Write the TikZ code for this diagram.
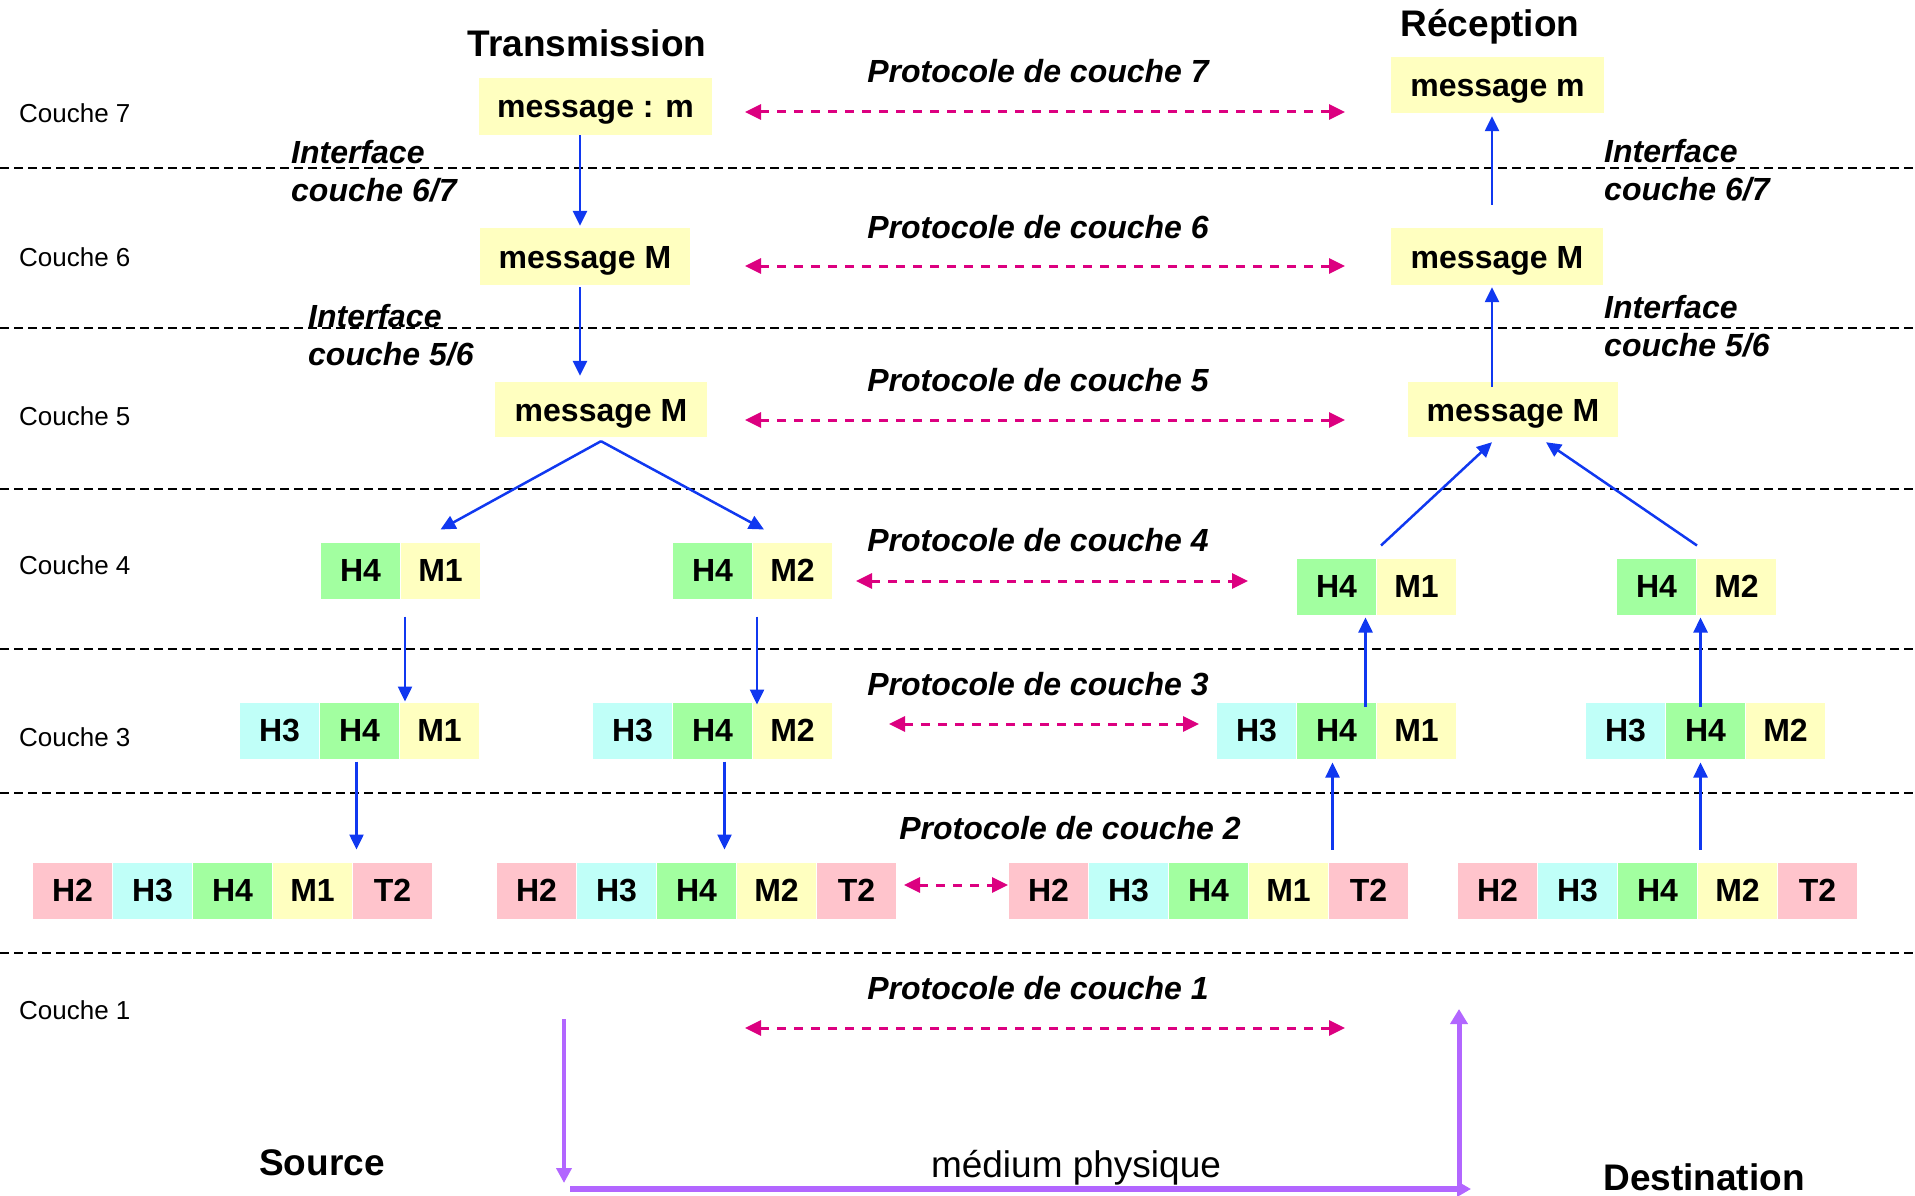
\documentclass[tikz,border=0pt]{standalone}
\usepackage{fontspec}
\setmainfont{Liberation Sans}
\usetikzlibrary{arrows.meta}

\definecolor{cellyellow}{RGB}{255,255,192}
\definecolor{cellgreen}{RGB}{162,255,160}
\definecolor{cellcyan}{RGB}{192,255,248}
\definecolor{cellpink}{RGB}{255,196,204}
\definecolor{flowblue}{RGB}{16,56,240}
\definecolor{protomag}{RGB}{220,0,128}
\definecolor{wirepurple}{RGB}{178,102,255}

\tikzset{
  layerline/.style={draw=black,line width=2pt,dash pattern=on 9pt off 5pt},
  couche/.style={anchor=west,inner sep=0pt,font=\fontsize{26}{30}\selectfont},
  headline/.style={inner sep=0pt,font=\fontsize{37}{44}\selectfont\bfseries},
  medium/.style={inner sep=0pt,font=\fontsize{37}{44}\selectfont},
  proto/.style={inner sep=0pt,font=\fontsize{32}{38}\selectfont\bfseries\itshape},
  iface/.style={anchor=west,align=left,inner sep=0pt,font=\fontsize{32}{38}\selectfont\bfseries\itshape},
  msgbox/.style={fill=cellyellow,inner sep=0pt,text height=23pt,text depth=0pt,
    font=\fontsize{32}{38}\selectfont\bfseries},
  cell/.style={anchor=west,minimum width=80pt,minimum height=57pt,inner sep=0pt,
    draw=white,line width=1pt,font=\fontsize{32}{38}\selectfont\bfseries},
  bluearrow/.style={draw=flowblue,line width=2.5pt,-{Triangle[length=15pt,width=14pt]}},
  protoarrow/.style={draw=protomag,line width=3pt,dash pattern=on 9pt off 8pt,
    {Triangle[length=16pt,width=15pt]}-{Triangle[length=16pt,width=15pt]}},
  wire/.style={draw=wirepurple,-{Triangle[length=15pt,width=15pt]}},
}

% one packet: prefix, west edge, centre y, list of colour/label
\newcommand{\pktrow}[4]{%
  \foreach \col/\txt [count=\k from 0] in {#4} {
    \node[cell,fill=\col] (#1\txt) at (#2+80*\k,#3) {\txt};
  }%
}

\begin{document}
\begin{tikzpicture}[x=1pt,y=-1pt]
\useasboundingbox (0,0) rectangle (1915,1196);

% layer boundaries
\foreach \yy in {168,328,489,649,793,953}
  \draw[layerline] (0,\yy) -- (1915,\yy);

% layer names
\node[couche] (c7) at (19,113) {Couche 7};
\node[couche] (c6) at (19,257) {Couche 6};
\node[couche] (c5) at (19,416) {Couche 5};
\node[couche] (c4) at (19,565) {Couche 4};
\node[couche] (c3) at (19,737) {Couche 3};
\node[couche] (c1) at (19,1010) {Couche 1};

% headings
\node[headline] (tx) at (587,43) {Transmission};
\node[headline] (rx) at (1490,27) {Réception};
\node[headline] (src) at (322,1163) {Source};
\node[headline] (dst) at (1704,1177) {Destination};
\node[medium] (med) at (1076,1168) {médium physique};

% interfaces
\node[iface] (if67s) at (291,171) {Interface\\couche 6/7};
\node[iface] (if56s) at (308,335) {Interface\\couche 5/6};
\node[iface] (if67r) at (1604,170) {Interface\\couche 6/7};
\node[iface] (if56r) at (1604,326) {Interface\\couche 5/6};

% protocol names
\node[proto] (pn7) at (1038,71) {Protocole de couche 7};
\node[proto] (pn6) at (1038,227) {Protocole de couche 6};
\node[proto] (pn5) at (1038,380) {Protocole de couche 5};
\node[proto] (pn4) at (1038,540) {Protocole de couche 4};
\node[proto] (pn3) at (1038,684) {Protocole de couche 3};
\node[proto] (pn2) at (1070,828) {Protocole de couche 2};
\node[proto] (pn1) at (1038,988) {Protocole de couche 1};

% messages, upper layers
\node[msgbox,minimum width=233pt,minimum height=57pt] (msg7) at (595.5,106.5) {message : m};
\node[msgbox,minimum width=210pt,minimum height=57pt] (msg6) at (585,256.5) {message M};
\node[msgbox,minimum width=212pt,minimum height=55pt] (msg5) at (601,409.5) {message M};
\node[msgbox,minimum width=213pt,minimum height=56pt] (msg7r) at (1497.5,85) {message m};
\node[msgbox,minimum width=212pt,minimum height=57pt] (msg6r) at (1497,256.5) {message M};
\node[msgbox,minimum width=210pt,minimum height=55pt] (msg5r) at (1513,409.5) {message M};

% segments and frames, sending side
\pktrow{s4a}{320}{570.5}{cellgreen/H4,cellyellow/M1}
\pktrow{s4b}{672}{570.5}{cellgreen/H4,cellyellow/M2}
\pktrow{s3a}{239}{730.5}{cellcyan/H3,cellgreen/H4,cellyellow/M1}
\pktrow{s3b}{592}{730.5}{cellcyan/H3,cellgreen/H4,cellyellow/M2}
\pktrow{s2a}{32}{890.5}{cellpink/H2,cellcyan/H3,cellgreen/H4,cellyellow/M1,cellpink/T2}
\pktrow{s2b}{496}{890.5}{cellpink/H2,cellcyan/H3,cellgreen/H4,cellyellow/M2,cellpink/T2}

% segments and frames, receiving side
\pktrow{r4a}{1296}{586.5}{cellgreen/H4,cellyellow/M1}
\pktrow{r4b}{1616}{586.5}{cellgreen/H4,cellyellow/M2}
\pktrow{r3a}{1216}{730.5}{cellcyan/H3,cellgreen/H4,cellyellow/M1}
\pktrow{r3b}{1585}{730.5}{cellcyan/H3,cellgreen/H4,cellyellow/M2}
\pktrow{r2a}{1008}{890.5}{cellpink/H2,cellcyan/H3,cellgreen/H4,cellyellow/M1,cellpink/T2}
\pktrow{r2b}{1457}{890.5}{cellpink/H2,cellcyan/H3,cellgreen/H4,cellyellow/M2,cellpink/T2}

% downward flow, sending side
\coordinate (d7) at ([xshift=-15.5pt]msg7.south);
\draw[bluearrow,shorten >=2pt] (d7) -- (d7 |- msg6.north);
\coordinate (d6) at ([xshift=-5pt]msg6.south);
\draw[bluearrow,shorten <=2pt,shorten >=6pt] (d6) -- (d6 |- msg5.north);
\coordinate (split) at ([yshift=-4pt]msg5.south);
\draw[bluearrow] (split) -- ([yshift=12pt]s4aM1.north);
\draw[bluearrow] (split) -- ([xshift=11pt,yshift=12pt]s4bH4.north east);
\coordinate (d4a) at ([xshift=4pt]s4aH4.south east);
\draw[bluearrow,shorten <=17pt] (d4a) -- (d4a |- s3aH4.north);
\coordinate (d4b) at ([xshift=4pt]s4bH4.south east);
\draw[bluearrow,shorten <=17pt,shorten >=-3pt] (d4b) -- (d4b |- s3bH4.north);
\coordinate (d3a) at ([xshift=-3pt]s3aH4.south);
\draw[bluearrow,shorten <=2pt,shorten >=12pt] (d3a) -- (d3a |- s2aM1.north);
\coordinate (d3b) at ([xshift=12pt]s3bH4.south);
\draw[bluearrow,shorten <=2pt,shorten >=12pt] (d3b) -- (d3b |- s2bH4.north);

% upward flow, receiving side
\coordinate (u3a) at ([xshift=-4pt]r3aH4.south);
\draw[bluearrow,shorten <=12pt,shorten >=3pt] (u3a |- r2aT2.north) -- (u3a);
\coordinate (u3b) at ([xshift=-5pt]r3bH4.south);
\draw[bluearrow,shorten <=12pt,shorten >=3pt] (u3b |- r2bM2.north) -- (u3b);
\coordinate (u4a) at ([xshift=29pt]r3aH4.north);
\draw[bluearrow,shorten <=-5pt,shorten >=2pt] (u4a) -- (u4a |- r4aH4.south);
\coordinate (u4b) at ([xshift=-5pt]r3bH4.north);
\draw[bluearrow,shorten <=-5pt,shorten >=2pt] (u4b) -- (u4b |- r4bH4.south);
\draw[bluearrow] ([xshift=4pt,yshift=12pt]r4aH4.north east) -- ([xshift=-21pt,yshift=-5pt]msg5r.south);
\draw[bluearrow] ([yshift=12pt]r4bH4.north east) -- ([xshift=33pt,yshift=-5pt]msg5r.south);
\coordinate (u5) at ([xshift=-21pt]msg5r.north);
\draw[bluearrow,shorten <=-5pt,shorten >=2pt] (u5) -- (u5 |- msg6r.south);
\coordinate (u6) at ([xshift=-5pt]msg6r.north);
\draw[bluearrow,shorten <=23pt,shorten >=3pt] (u6) -- (u6 |- msg7r.south);

% peer protocols
\coordinate (p7s) at (745,112);  \coordinate (p7r) at (1345,112);
\coordinate (p6s) at (745,266);  \coordinate (p6r) at (1345,266);
\coordinate (p5s) at (745,420);  \coordinate (p5r) at (1345,420);
\coordinate (p4s) at (856,581);  \coordinate (p4r) at (1248,581);
\coordinate (p3s) at (889,724);  \coordinate (p3r) at (1199,724);
\coordinate (p2s) at (904,885);  \coordinate (p2r) at (1008,885);
\coordinate (p1s) at (745,1028); \coordinate (p1r) at (1345,1028);
\foreach \n in {7,6,5,4,3,2,1}
  \draw[protoarrow] (p\n s) -- (p\n r);

% physical medium
\coordinate (srcTop) at (564,1019);
\coordinate (srcBot) at (564,1183);
\coordinate (busL) at (570,1189);
\coordinate (busR) at (1471,1189);
\coordinate (dstBot) at (1459,1193);
\coordinate (dstTop) at (1459,1009);
\draw[wire,line width=4pt] (srcTop) -- (srcBot);
\draw[wire,line width=6pt,-{Triangle[length=14pt,width=15pt]}] (busL) -- (busR);
\draw[wire,line width=5pt,-{Triangle[length=15pt,width=17pt]}] (dstBot) -- (dstTop);

\end{tikzpicture}
\end{document}
